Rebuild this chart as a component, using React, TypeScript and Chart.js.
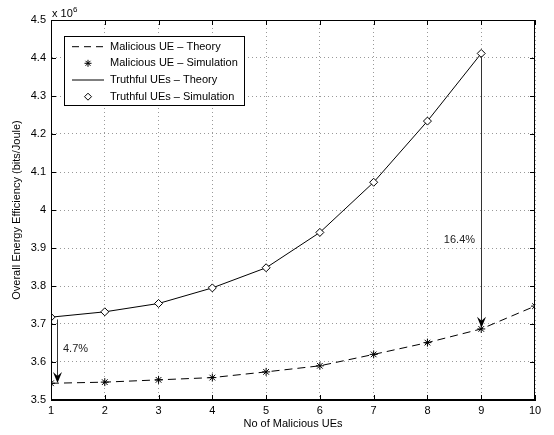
import React, { useEffect, useRef } from "react";
import { Chart, registerables } from "chart.js";

Chart.register(...registerables);

const ueCounts = [1, 2, 3, 4, 5, 6, 7, 8, 9, 10];
const maliciousValues = [3.544, 3.547, 3.553, 3.559, 3.574, 3.590, 3.620, 3.651, 3.687, 3.747];
const truthfulCounts = [1, 2, 3, 4, 5, 6, 7, 8, 9];
const truthfulValues = [3.718, 3.732, 3.754, 3.795, 3.848, 3.941, 4.073, 4.234, 4.412];
const legendLabels = [
  "Malicious UE \u2013 Theory",
  "Malicious UE \u2013 Simulation",
  "Truthful UEs \u2013 Theory",
  "Truthful UEs \u2013 Simulation",
];
const percentLabels = ["4.7%", "16.4%"];
const percentPos = [
  [1.223, 3.634],
  [8.305, 3.921],
];
const arrowX = [1.11, 9];
const arrowFrom = [3.712, 4.405];
const arrowTo = [3.545, 3.69];
const xTitle = "No of Malicious UEs";
const yTitle = "Overall Energy Efficiency (bits/Joule)";

const FONT = "'Liberation Sans', Arial, sans-serif";

function drawStar(ctx: CanvasRenderingContext2D, x: number, y: number, r: number) {
  ctx.beginPath();
  for (let i = 0; i < 4; i++) {
    const a = (i * Math.PI) / 4;
    ctx.moveTo(x + Math.cos(a) * r, y + Math.sin(a) * r);
    ctx.lineTo(x - Math.cos(a) * r, y - Math.sin(a) * r);
  }
  ctx.stroke();
}

function drawDiamond(ctx: CanvasRenderingContext2D, x: number, y: number, r: number) {
  ctx.beginPath();
  ctx.moveTo(x, y - r);
  ctx.lineTo(x + r, y);
  ctx.lineTo(x, y + r);
  ctx.lineTo(x - r, y);
  ctx.closePath();
  ctx.fillStyle = "#fff";
  ctx.fill();
  ctx.stroke();
}

const decorPlugin = {
  id: "decor",
  afterDraw(chart: any) {
    const ctx: CanvasRenderingContext2D = chart.ctx;
    const { left, right, top, bottom } = chart.chartArea;
    const xs = chart.scales.x;
    const ys = chart.scales.y;
    ctx.save();
    // box
    ctx.strokeStyle = "#000";
    ctx.lineWidth = 1;
    ctx.setLineDash([]);
    ctx.strokeRect(left + 0.5, top + 0.5, right - left - 1, bottom - top - 1);
    // inside ticks
    ctx.beginPath();
    xs.ticks.forEach((t: any) => {
      const px = Math.round(xs.getPixelForValue(t.value)) + 0.5;
      ctx.moveTo(px, bottom);
      ctx.lineTo(px, bottom - 5);
      ctx.moveTo(px, top);
      ctx.lineTo(px, top + 5);
    });
    ys.ticks.forEach((t: any) => {
      const py = Math.round(ys.getPixelForValue(t.value)) + 0.5;
      ctx.moveTo(left, py);
      ctx.lineTo(left + 5, py);
      ctx.moveTo(right, py);
      ctx.lineTo(right - 5, py);
    });
    ctx.stroke();

    // exponent label
    ctx.fillStyle = "#000";
    ctx.font = `11px ${FONT}`;
    ctx.textAlign = "left";
    ctx.textBaseline = "alphabetic";
    ctx.fillText("x 10", left + 1, top - 3);
    ctx.font = `8px ${FONT}`;
    ctx.fillText("6", left + 22, top - 8);

    // axis titles
    ctx.font = `11px ${FONT}`;
    ctx.textAlign = "center";
    ctx.textBaseline = "middle";
    ctx.fillText(xTitle, (left + right) / 2, 424);
    ctx.save();
    ctx.translate(17, (top + bottom) / 2);
    ctx.rotate(-Math.PI / 2);
    ctx.fillText(yTitle, 0, 0);
    ctx.restore();

    // arrows
    for (let i = 0; i < arrowX.length; i++) {
      const ax = Math.round(xs.getPixelForValue(arrowX[i])) + 0.5;
      const y0 = ys.getPixelForValue(arrowFrom[i]);
      const y1 = ys.getPixelForValue(arrowTo[i]);
      ctx.strokeStyle = "#333";
      ctx.lineWidth = 1;
      ctx.beginPath();
      ctx.moveTo(ax, y0);
      ctx.lineTo(ax, y1 - 6);
      ctx.stroke();
      ctx.fillStyle = "#000";
      ctx.beginPath();
      ctx.moveTo(ax, y1);
      ctx.lineTo(ax - 4.5, y1 - 11);
      ctx.lineTo(ax, y1 - 7);
      ctx.lineTo(ax + 4.5, y1 - 11);
      ctx.closePath();
      ctx.fill();
    }

    // percent labels
    ctx.fillStyle = "#222";
    ctx.font = `11px ${FONT}`;
    ctx.textAlign = "left";
    ctx.textBaseline = "middle";
    percentLabels.forEach((s, i) => {
      ctx.fillText(s, xs.getPixelForValue(percentPos[i][0]), ys.getPixelForValue(percentPos[i][1]));
    });

    // legend
    const lx = 64.5, ly = 36.5, lw = 180, lh = 69;
    ctx.fillStyle = "#fff";
    ctx.fillRect(lx, ly, lw, lh);
    ctx.strokeStyle = "#000";
    ctx.lineWidth = 1;
    ctx.strokeRect(lx, ly, lw, lh);
    const rows = [46.7, 63.3, 80, 96.7];
    ctx.font = `11px ${FONT}`;
    ctx.textBaseline = "middle";
    ctx.textAlign = "left";
    rows.forEach((ry, i) => {
      ctx.strokeStyle = "#000";
      ctx.lineWidth = 1;
      if (i === 0) {
        ctx.setLineDash([7, 5]);
        ctx.beginPath();
        ctx.moveTo(72, ry);
        ctx.lineTo(104, ry);
        ctx.stroke();
        ctx.setLineDash([]);
      } else if (i === 1) {
        drawStar(ctx, 88, ry, 3.5);
      } else if (i === 2) {
        ctx.beginPath();
        ctx.moveTo(72, ry);
        ctx.lineTo(104, ry);
        ctx.stroke();
      } else {
        drawDiamond(ctx, 88, ry, 3.5);
      }
      ctx.fillStyle = "#000";
      ctx.fillText(legendLabels[i], 110, ry);
    });
    ctx.restore();
  },
};

export default function App() {
  const ref = useRef<HTMLCanvasElement>(null);
  useEffect(() => {
    document.body.style.margin = "0";
    const ctx = ref.current!.getContext("2d")!;
    const chart = new Chart(ctx, {
      type: "line",
      data: {
        datasets: [
          {
            label: "Malicious UE",
            data: ueCounts.map((x, i) => ({ x, y: maliciousValues[i] })),
            borderColor: "#000",
            borderWidth: 1,
            borderDash: [8, 5],
            pointStyle: "star",
            pointRadius: 4,
            pointBorderWidth: 1,
            pointBorderColor: "#000",
            pointBackgroundColor: "#000",
            tension: 0,
            fill: false,
          },
          {
            label: "Truthful UEs",
            data: truthfulCounts.map((x, i) => ({ x, y: truthfulValues[i] })),
            borderColor: "#000",
            borderWidth: 1,
            pointStyle: "rectRot",
            pointRadius: 4,
            pointBorderWidth: 1,
            pointBorderColor: "#000",
            pointBackgroundColor: "#fff",
            tension: 0,
            fill: false,
          },
        ],
      },
      options: {
        animation: false,
        responsive: false,
        layout: { padding: { top: 20, right: 19, left: 0, bottom: 0 } },
        plugins: { legend: { display: false }, tooltip: { enabled: false } },
        scales: {
          x: {
            type: "linear",
            min: 1,
            max: 10,
            ticks: { stepSize: 1, color: "#000", font: { family: FONT, size: 11 }, padding: 4 },
            grid: { color: "#999", drawTicks: false },
            border: { display: true, color: "#000", dash: [1, 3] },
            afterFit: (s: any) => {
              s.height = 35;
            },
          },
          y: {
            type: "linear",
            min: 3.5,
            max: 4.5,
            ticks: {
              stepSize: 0.1,
              color: "#000",
              font: { family: FONT, size: 11 },
              padding: 5,
              callback: (v: any) => String(Number(Number(v).toFixed(1))),
            },
            grid: { color: "#999", drawTicks: false },
            border: { display: true, color: "#000", dash: [1, 3] },
            afterFit: (s: any) => {
              s.width = 51;
            },
          },
        },
      },
      plugins: [decorPlugin],
    });
    return () => chart.destroy();
  }, []);
  return (
    <div style={{ width: 554, height: 435 }}>
      <canvas ref={ref} width={554} height={435} />
    </div>
  );
}
